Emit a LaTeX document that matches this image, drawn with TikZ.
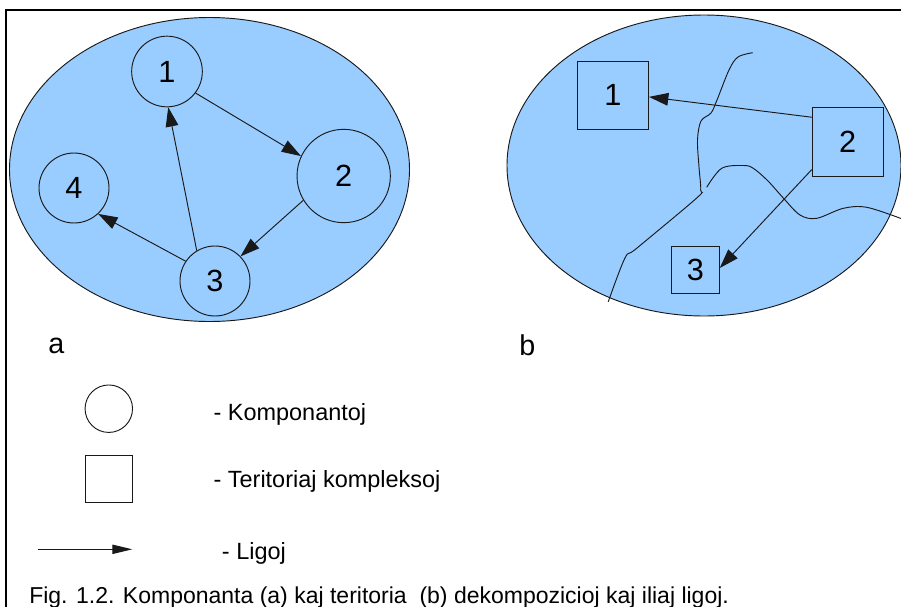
\documentclass[tikz,border=0pt]{standalone}
\usepackage{fontspec}
\setmainfont{Liberation Sans}
\usetikzlibrary{arrows.meta,calc}
\definecolor{zonefill}{RGB}{153,204,255}
\definecolor{inkline}{RGB}{25,25,25}
\begin{document}
\begin{tikzpicture}[x=0.75pt,y=-0.75pt,
  zone/.style={fill=zonefill,draw=inkline,line width=0.7pt},
  comp/.style={circle,draw=inkline,line width=0.7pt,inner sep=0pt,font=\fontsize{23}{23}\selectfont},
  terr/.style={rectangle,draw=inkline,line width=0.7pt,inner sep=0pt,font=\fontsize{23}{23}\selectfont},
  link/.style={draw=inkline,line width=0.7pt,-{Triangle[length=14.5pt,width=9.5pt]}},
  border/.style={draw=inkline,line width=0.7pt},
  legtext/.style={anchor=base west,inner sep=0pt,font=\fontsize{17.6}{17.6}\selectfont},
  tag/.style={anchor=base west,inner sep=0pt,font=\fontsize{21.5}{21.5}\selectfont}]
\useasboundingbox (0,0) rectangle (901,607);

% frame
\draw[line width=0.9pt] (6,607) -- (6,10) -- (901,10);

% (a) components and their links
\draw[zone] (209.5,169.5) ellipse (200 and 152);
\node[comp,minimum size=53pt] (c1) at (167,71.5) {1};
\node[comp,minimum size=70pt] (c2) at (343.7,176) {2};
\node[comp,minimum size=52.5pt] (c3) at (215,281) {3};
\node[comp,minimum size=52.5pt] (c4) at (74,188) {4};
\draw[link] (c1.-37) -- (c2.155);
\draw[link] (c2.211) -- (c3.44);
\draw[link] (c3.121) -- (c1.272);
\draw[link] (c3.146) -- (c4.-47);

% (b) territorial complexes, their borders and links
\draw[zone] (704,165.5) ellipse (197 and 150.5);
\draw[border] plot[smooth,tension=0.55] coordinates {
  (752.7,52.7) (738,57) (729,70) (717,100) (711,113) (701,121)
  (697.5,140) (699,167) (700.7,190) (696.7,198) (636.7,248.3)
  (625,258) (608.3,301.7)};
\draw[border] plot[smooth,tension=0.55] coordinates {
  (706.7,187.3) (721.7,168.3) (743.3,165.5) (753.3,168.3) (768,181)
  (783.3,198) (800,215) (816.7,218.3) (843.3,208.3) (866.7,207.3)
  (901,218.5)};
\node[terr,minimum width=53.25pt,minimum height=51pt] (b1) at (613,95) {1};
\node[terr,minimum width=53.25pt,minimum height=51.75pt] (b2) at (847.7,141.5) {2};
\node[terr,minimum width=35.7pt,minimum height=35.5pt] (b3) at (695.5,269.7) {3};
\draw[link] (b2.146.6) -- (b1.-3);
\draw[link] (b2.218.6) -- (b3.4);

% panel tags
\node[tag] (ta) at (48,353.3) {a};
\node[tag] (tb) at (519,355.5) {b};

% legend
\node[comp,minimum size=35.6pt] (lc) at (108.8,408.7) {};
\node[terr,minimum size=35.6pt] (ls) at (108.8,479) {};
\coordinate (la) at (38.3,549.3);
\coordinate (lb) at (132.3,549.3);
\draw[draw=inkline,line width=0.7pt,-{Triangle[length=15pt,width=7pt]}] (la) -- (lb);
\node[legtext] (t1) at (213.3,420.7) {- Komponantoj};
\node[legtext] (t2) at (213.3,487.5) {- Teritoriaj kompleksoj};
\node[legtext] (t3) at (221.7,559) {- Ligoj};

% caption
\node[anchor=base west,inner sep=0pt,font=\fontsize{17.25}{17.25}\selectfont] (cap) at (29,603)
  {Fig. 1.2. Komponanta (a) kaj teritoria\ \ (b) dekompozicioj kaj iliaj ligoj.};
\end{tikzpicture}
\end{document}
